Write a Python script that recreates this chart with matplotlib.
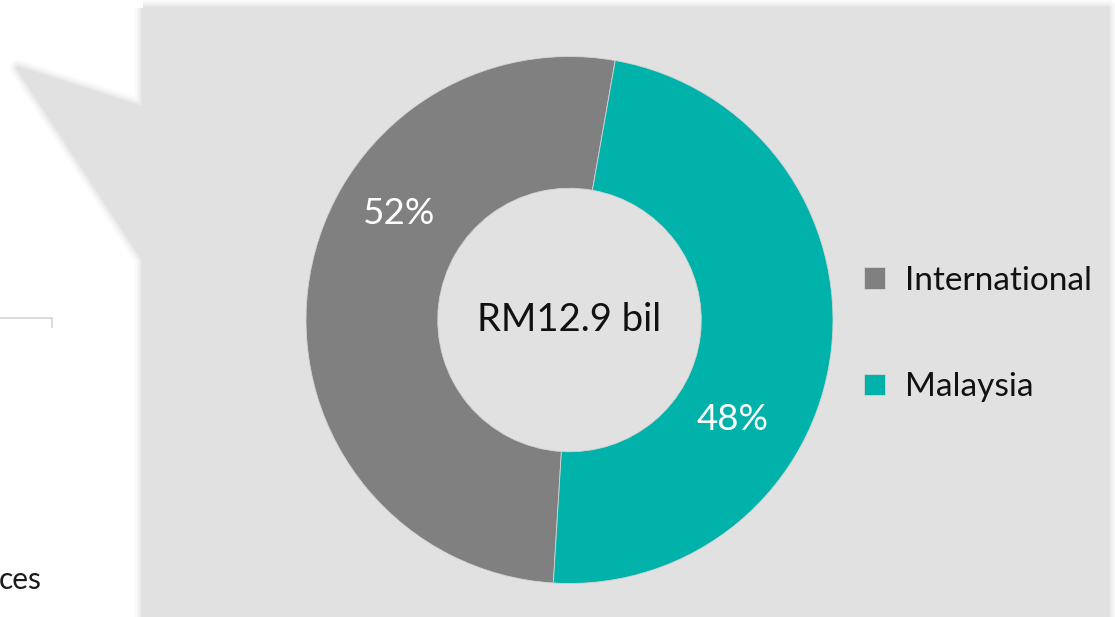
import matplotlib.pyplot as plt
from matplotlib.patches import Polygon

plt.rcParams['font.family'] = ['Lato', 'DejaVu Sans']

# data
regions = ["International", "Malaysia"]
shares = [51.8, 48.2]
total_label = "RM12.9 bil"
colors = ["#808080", "#00b2aa"]

W, H = 1115, 617

fig = plt.figure(figsize=(W / 100, H / 100), dpi=100)
ax = fig.add_axes([0, 0, 1, 1])
ax.set_xlim(0, W)
ax.set_ylim(0, H)
ax.set_aspect("equal")
ax.axis("off")


def flip(pts):
    return [(x, H - y) for x, y in pts]


# grey panel with callout arrow
outline = flip([(143, 8), (1108, 8), (1108, 640), (143, 640), (143, 259),
                (18, 68), (143, 108)])
for lw in [12, 9, 7, 5, 3.5, 2]:
    ax.add_patch(Polygon(outline, closed=True, fill=False,
                         edgecolor=(0, 0, 0, 0.02), lw=lw, joinstyle="round"))
ax.add_patch(Polygon(outline, closed=True, facecolor="#e1e1e1",
                     edgecolor="none"))

# bits of the neighbouring graphic
ax.plot([0, 52, 52], [H - 317.5, H - 317.5, H - 327], color="#d6d6d6",
        lw=1.2, solid_joinstyle="miter")
ax.text(-1, H - 580, "ces", fontsize=21.5, color="#1a1a1a", ha="left",
        va="center")

# donut
cx, cy, r = 569.5, H - 320, 263.5
wedges, _ = ax.pie(shares, colors=colors, startangle=80, counterclock=True,
                   center=(cx, cy), radius=r, frame=True,
                   wedgeprops=dict(width=r * 0.5, edgecolor="#d4d4d4",
                                   linewidth=0.6))
ax.set_xlim(0, W)
ax.set_ylim(0, H)
ax.axis("off")

ax.text(cx, cy, total_label, fontsize=27.5, color="#111111", ha="center",
        va="center")

label_pos = [(399, 213), (733, 420)]
for (x, y), s in zip(label_pos, shares):
    ax.text(x, H - y, f"{s:.0f}%", fontsize=26.5, color="white",
            ha="center", va="center")

leg = ax.legend(wedges, regions, loc="center left",
                bbox_to_anchor=(864, H - 334), bbox_transform=ax.transData,
                frameon=False, prop=dict(size=24),
                handlelength=0.62, handleheight=0.62, handletextpad=0.6,
                labelspacing=2.3, borderpad=0, borderaxespad=0)
for t in leg.get_texts():
    t.set_color("#111111")

fig.savefig("out.png", dpi=100)
